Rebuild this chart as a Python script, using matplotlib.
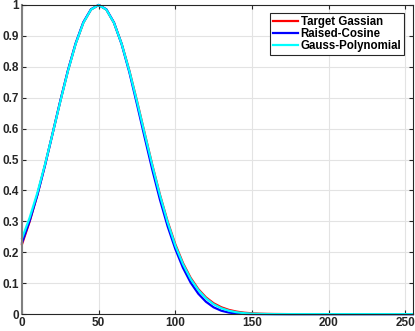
import matplotlib
matplotlib.use("Agg")
import matplotlib.pyplot as plt
import numpy as np

x = list(range(0, 256, 5)) + [255]

target = [0.2258, 0.2996, 0.3858, 0.4823, 0.5853, 0.6893, 0.7881, 0.8747, 0.9422, 0.9852,
          1.0, 0.9852, 0.9422, 0.8747, 0.7881, 0.6893, 0.5853, 0.4823, 0.3858, 0.2996,
          0.2258, 0.1652, 0.1173, 0.0809, 0.0541, 0.0351, 0.0222, 0.0136, 0.0081, 0.0046,
          0.0026, 0.0014, 0.0007, 0.0004, 0.0002] + [0.0] * 18

raised_cos = [0.231, 0.302, 0.385, 0.481, 0.585, 0.690, 0.789, 0.876, 0.944, 0.986,
              1.0, 0.986, 0.943, 0.873, 0.783, 0.679, 0.572, 0.467, 0.370, 0.284,
              0.211, 0.150, 0.102, 0.066, 0.040, 0.022, 0.011, 0.005, 0.002, 0.0005,
              0.0] + [0.0] * 22

gauss_poly = [0.245, 0.312, 0.392, 0.484, 0.585, 0.688, 0.787, 0.874, 0.942, 0.985,
              1.0, 0.985, 0.942, 0.874, 0.787, 0.688, 0.584, 0.481, 0.384, 0.297,
              0.222, 0.162, 0.114, 0.078, 0.051, 0.032, 0.019, 0.011, 0.006, 0.003,
              0.0015, 0.0007, 0.0003] + [0.0] * 20

labels = ["Target Gassian", "Raised-Cosine", "Gauss-Polynomial"]
colors = ["#ff0000", "#0000ff", "#00ffff"]
xticks = [0, 50, 100, 150, 200, 250]
yticks = [0, 0.1, 0.2, 0.3, 0.4, 0.5, 0.6, 0.7, 0.8, 0.9, 1]
ytick_labels = ["0", "0.1", "0.2", "0.3", "0.4", "0.5", "0.6", "0.7", "0.8", "0.9", "1"]

plt.rcParams['font.family'] = ['Liberation Sans', 'DejaVu Sans']
fig = plt.figure(figsize=(4.15, 3.31), dpi=100)
ax = fig.add_axes([0.053, 0.051, 0.942, 0.934])

for ys, c, lab in zip([target, raised_cos, gauss_poly], colors, labels):
    ax.plot(x, ys, color=c, lw=1.6, label=lab, clip_on=False)

ax.set_xlim(0, 255)
ax.set_ylim(0, 1)
ax.set_xticks(xticks)
ax.set_yticks(yticks)
ax.set_yticklabels(ytick_labels)
ax.grid(True, color="#e3e3e3", lw=0.8)
ax.set_axisbelow(True)
ax.tick_params(direction="in", length=3, width=0.8, top=True, right=True,
               labelsize=8.5, pad=2, colors="#262626")
for lbl in ax.get_xticklabels() + ax.get_yticklabels():
    lbl.set_fontweight("bold")
for s in ax.spines.values():
    s.set_color("#262626")
    s.set_linewidth(0.8)
ax.spines["left"].set_color("#808080")
ax.spines["left"].set_linewidth(1.5)

leg = ax.legend(loc="upper right", bbox_to_anchor=(0.978, 0.974), fancybox=False,
                edgecolor="#262626", framealpha=1, borderpad=0.25, handlelength=2.2,
                handletextpad=0.2, labelspacing=0.0, borderaxespad=0.0,
                prop={"weight": "bold", "size": 8.3})
leg.get_frame().set_linewidth(0.8)

fig.savefig("out.png", dpi=100)
